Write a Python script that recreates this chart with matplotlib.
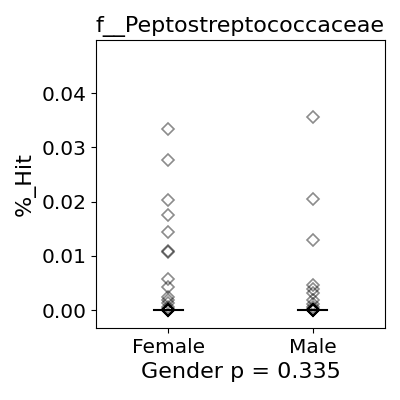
import matplotlib
matplotlib.use("Agg")
import matplotlib.pyplot as plt
import numpy as np

groups = ["Female", "Male"]
female_hits = [0.0334, 0.0277, 0.0203, 0.0175, 0.0144, 0.0109, 0.0108, 0.0057,
               0.0042, 0.0025, 0.0019, 0.0013, 0.0005, 0.0002,
               0, 0, 0, 0, 0, 0, 0, 0, 0, 0, 0, 0, 0, 0, 0, 0, 0, 0]
male_hits = [0.0356, 0.0205, 0.0129, 0.0046, 0.0038, 0.0031, 0.0018, 0.0012,
             0.0006, 0.0002, 0, 0, 0, 0, 0, 0, 0, 0, 0, 0, 0, 0, 0, 0]
title = "f__Peptostreptococcaceae"
p_value = 0.335

fig = plt.figure(figsize=(4, 4), dpi=100)
ax = fig.add_axes([0.24, 0.18, 0.7225, 0.72])

for i, vals in enumerate([female_hits, male_hits]):
    ax.plot([i] * len(vals), vals, linestyle="none", marker="D", markersize=6.5,
            markerfacecolor="none", markeredgecolor="black", markeredgewidth=1.2,
            alpha=0.45)
    med = np.median(vals)
    ax.plot([i - 0.1, i + 0.1], [med, med], color="black", linewidth=1.5)

ax.set_xlim(-0.5, 1.5)
ax.set_ylim(-0.0033, 0.0498)
ax.set_xticks([0, 1])
ax.set_xticklabels(groups)
ax.set_yticks([0.0, 0.01, 0.02, 0.03, 0.04])
ax.set_yticklabels(["0.00", "0.01", "0.02", "0.03", "0.04"])
ax.tick_params(labelsize=14.5)
ax.set_title(title, fontsize=16)
ax.set_ylabel("%_Hit", fontsize=16)
ax.set_xlabel(f"Gender p = {p_value}", fontsize=16)

fig.savefig("out.png", dpi=100)
